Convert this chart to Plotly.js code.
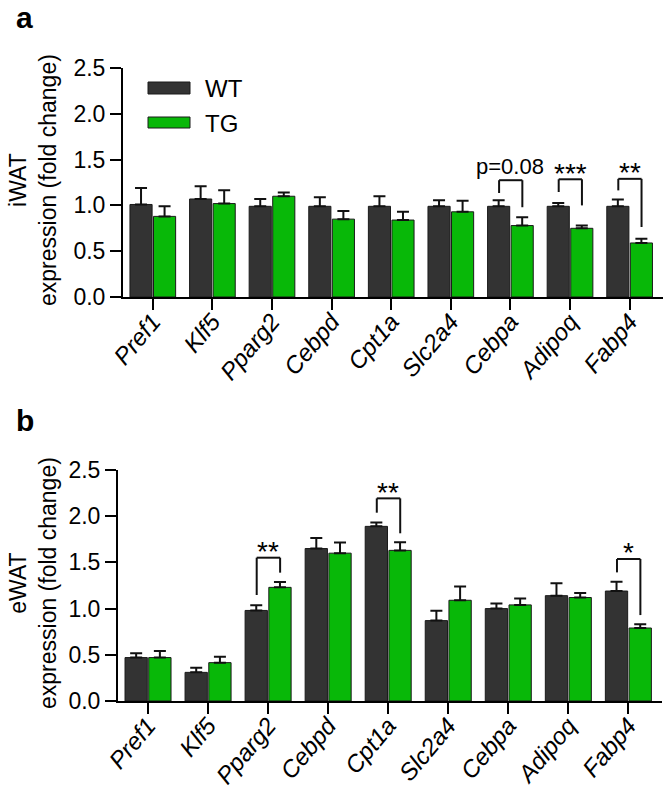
<!DOCTYPE html>
<html>
<head>
<meta charset="utf-8">
<script src="https://cdn.plot.ly/plotly-3.0.1.min.js"></script>
<style>
  html, body { margin: 0; padding: 0; background: #fff; overflow: hidden; }
  #chart { width: 666px; height: 788px; }
</style>
</head>
<body>
<div id="chart"></div>
<script>
// genes on the x axis (same in both panels)
var genes = ["Pref1", "Klf5", "Pparg2", "Cebpd", "Cpt1a", "Slc2a4", "Cebpa", "Adipoq", "Fabp4"];

// panel a: iWAT
var iwatWT    = [1.01, 1.07, 0.99, 0.99, 0.99, 0.99, 0.99, 0.99, 0.99];
var iwatWTerr = [0.18, 0.14, 0.08, 0.10, 0.11, 0.065, 0.065, 0.035, 0.075];
var iwatTG    = [0.88, 1.02, 1.10, 0.85, 0.84, 0.93, 0.78, 0.75, 0.59];
var iwatTGerr = [0.11, 0.145, 0.04, 0.09, 0.09, 0.12, 0.09, 0.03, 0.047];

// panel b: eWAT
var ewatWT    = [0.47, 0.31, 0.98, 1.65, 1.89, 0.87, 1.00, 1.14, 1.19];
var ewatWTerr = [0.047, 0.05, 0.055, 0.115, 0.043, 0.108, 0.054, 0.133, 0.10];
var ewatTG    = [0.47, 0.415, 1.23, 1.60, 1.63, 1.09, 1.04, 1.12, 0.79];
var ewatTGerr = [0.07, 0.065, 0.058, 0.115, 0.087, 0.148, 0.068, 0.05, 0.04];

// significance brackets
var sigAcat = [6, 7, 8];
var sigAtxt = ["p=0.08", "***", "**"];
var sigAtop = [1.275, 1.285, 1.29];
var sigAleft = [1.135, 1.146, 1.164];
var sigAright = [0.98, 1.0, 0.764];

var sigBcat = [2, 4, 8];
var sigBtxt = ["**", "**", "*"];
var sigBtop = [1.551, 2.193, 1.537];
var sigBleft = [1.147, 2.038, 1.392];
var sigBright = [1.389, 1.815, 0.93];

var W = 666, H = 788;
var WTcol = "#333333", TGcol = "#08b808";
var font = "Arial, 'Liberation Sans', sans-serif";

function zeros(n) { var a = []; for (var i = 0; i < n; i++) a.push(0); return a; }

function barTrace(name, vals, err, color, xa, ya) {
  return {
    type: "bar", name: name, x: genes, y: vals, xaxis: xa, yaxis: ya,
    marker: {color: color, line: {color: "#1a1a1a", width: 1}},
    error_y: {type: "data", array: err, arrayminus: zeros(err.length), symmetric: false,
              color: "#111", thickness: 2, width: 6},
    showlegend: false, hoverinfo: "skip"
  };
}

var data = [
  barTrace("WT", iwatWT, iwatWTerr, WTcol, "x", "y"),
  barTrace("TG", iwatTG, iwatTGerr, TGcol, "x", "y"),
  barTrace("WT", ewatWT, ewatWTerr, WTcol, "x2", "y2"),
  barTrace("TG", ewatTG, ewatTGerr, TGcol, "x2", "y2")
];

// pixel -> paper fraction
function px(x) { return x / W; }
function py(y) { return 1 - y / H; }

function xAxis(dom, anchor) {
  return {
    domain: dom, anchor: anchor, type: "category", range: [-0.5, 8.56],
    showline: true, linewidth: 2, linecolor: "#000", mirror: false,
    ticks: "outside", ticklen: 11, tickwidth: 2, tickcolor: "#000",
    tickangle: -50, ticklabelstandoff: -12,
    tickfont: {family: font, size: 24, color: "#000", style: "italic"},
    showgrid: false, zeroline: false, fixedrange: true
  };
}
function yAxis(dom, anchor) {
  return {
    domain: dom, anchor: anchor, range: [0, 2.5], dtick: 0.5, tickformat: ".1f",
    showline: true, linewidth: 2, linecolor: "#000",
    ticks: "outside", ticklen: 11, tickwidth: 2, tickcolor: "#000",
    tickfont: {family: font, size: 23, color: "#000"},
    showgrid: false, zeroline: false, fixedrange: true
  };
}

var shapes = [];
var annotations = [];

function addBrackets(cats, txts, tops, lefts, rights, xr, yr) {
  for (var i = 0; i < cats.length; i++) {
    var xl = cats[i] - 0.19, xrr = cats[i] + 0.2;
    var ln = {color: "#111", width: 2};
    shapes.push({type: "line", xref: xr, yref: yr, x0: xl, x1: xl, y0: lefts[i], y1: tops[i], line: ln});
    shapes.push({type: "line", xref: xr, yref: yr, x0: xl, x1: xrr, y0: tops[i], y1: tops[i], line: ln});
    shapes.push({type: "line", xref: xr, yref: yr, x0: xrr, x1: xrr, y0: tops[i], y1: rights[i], line: ln});
    var star = txts[i].charAt(0) === "*";
    annotations.push({
      xref: xr, yref: yr, x: cats[i], y: tops[i], text: txts[i], showarrow: false,
      xanchor: "center", yanchor: "middle", yshift: star ? 6 : 14,
      font: {family: font, size: star ? 28 : 22, color: "#000"}
    });
  }
}
addBrackets(sigAcat, sigAtxt, sigAtop, sigAleft, sigAright, "x", "y");
addBrackets(sigBcat, sigBtxt, sigBtop, sigBleft, sigBright, "x2", "y2");

// legend keys
shapes.push({type: "rect", xref: "paper", yref: "paper", x0: px(148), x1: px(190), y0: py(94), y1: py(82),
             fillcolor: WTcol, line: {color: "#1a1a1a", width: 1}});
shapes.push({type: "rect", xref: "paper", yref: "paper", x0: px(148), x1: px(190), y0: py(128), y1: py(117),
             fillcolor: TGcol, line: {color: "#1a1a1a", width: 1}});
annotations.push({xref: "paper", yref: "paper", x: px(203), y: py(88), xanchor: "left", yanchor: "middle",
                  text: "WT", showarrow: false, font: {family: font, size: 24, color: "#000"}});
annotations.push({xref: "paper", yref: "paper", x: px(203), y: py(123), xanchor: "left", yanchor: "middle",
                  text: "TG", showarrow: false, font: {family: font, size: 24, color: "#000"}});

// axis titles
annotations.push({xref: "paper", yref: "paper", x: px(33), y: py(180), textangle: -90,
                  xanchor: "center", yanchor: "middle",
                  text: "iWAT<br>expression (fold change)", showarrow: false,
                  font: {family: font, size: 23, color: "#000"}});
annotations.push({xref: "paper", yref: "paper", x: px(33), y: py(583), textangle: -90,
                  xanchor: "center", yanchor: "middle",
                  text: "eWAT<br>expression (fold change)", showarrow: false,
                  font: {family: font, size: 23, color: "#000"}});

// panel letters
annotations.push({xref: "paper", yref: "paper", x: px(14), y: py(-1), xanchor: "left", yanchor: "top",
                  text: "<b>a</b>", showarrow: false, font: {family: font, size: 30, color: "#000"}});
annotations.push({xref: "paper", yref: "paper", x: px(14), y: py(402), xanchor: "left", yanchor: "top",
                  text: "<b>b</b>", showarrow: false, font: {family: font, size: 30, color: "#000"}});

var layout = {
  width: W, height: H,
  margin: {l: 0, r: 0, t: 0, b: 0},
  paper_bgcolor: "#fff", plot_bgcolor: "#fff",
  barmode: "group", bargap: 0.21, bargroupgap: 0.06,
  xaxis: xAxis([px(123), px(663)], "y"),
  yaxis: yAxis([py(297), py(68)], "x"),
  xaxis2: xAxis([px(118), px(662)], "y2"),
  yaxis2: yAxis([py(701), py(470)], "x2"),
  shapes: shapes,
  annotations: annotations,
  showlegend: false
};

Plotly.newPlot("chart", data, layout, {staticPlot: true});
</script>
</body>
</html>
